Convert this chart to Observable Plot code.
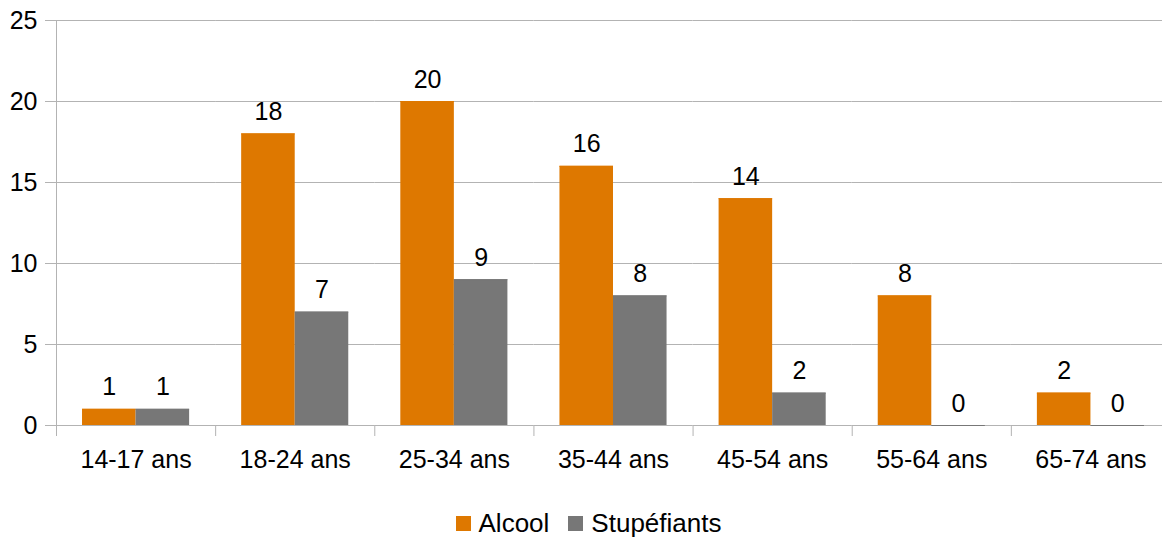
<!DOCTYPE html>
<html><head><meta charset="utf-8">
<script src="https://cdn.jsdelivr.net/npm/d3@7"></script>
<script src="https://cdn.jsdelivr.net/npm/@observablehq/plot@0.6"></script>
<style>
html,body{margin:0;padding:0;background:#fff;overflow:hidden;}
body{font-family:"Liberation Sans",Arial,sans-serif;}
#chart{width:1170px;height:490px;}
#legend{width:1177px;margin-top:18px;}
.lg-swatches{justify-content:center;font:26px "Liberation Sans",Arial,sans-serif !important;color:#000;min-height:28px !important;margin:0 !important;}
.lg-swatch{margin-right:19px !important;}
.lg-swatch:last-child{margin-right:0 !important;}
.lg-swatch > svg{margin-right:8px !important;}
</style></head><body>
<div id="chart"></div>
<div id="legend"></div>
<script>
const categories = ["14-17 ans","18-24 ans","25-34 ans","35-44 ans","45-54 ans","55-64 ans","65-74 ans"];
const series = ["Alcool","Stupéfiants"];
const alcool = [1,18,20,16,14,8,2];
const stupefiants = [1,7,9,8,2,0,0];
const yTicks = [0,5,10,15,20,25];
const colors = ["#de7800","#777777"];

const data = categories.flatMap((c,i)=>[
  {category:c, series:series[0], value:alcool[i]},
  {category:c, series:series[1], value:stupefiants[i]}
]);

const W=1170,H=490,mT=20,mB=65,mL=56,mR=0;
const innerH = H-mT-mB;
const grid = "#b3b3b3";
const font = "Liberation Sans, Arial, sans-serif";

const chart = Plot.plot({
  width:W,height:H,marginTop:mT,marginBottom:mB,marginLeft:mL,marginRight:mR,
  style:{fontFamily:font, fontSize:"25px", color:"#000", background:"#fff", overflow:"visible"},
  fx:{domain:categories, padding:0, round:false, label:null},
  x:{domain:series, paddingInner:0, paddingOuter:0.486, round:false, axis:null},
  y:{domain:[0,25], ticks:yTicks, label:null},
  color:{domain:series, range:colors},
  marks:[
    Plot.gridY(yTicks,{stroke:grid, strokeOpacity:1}),
    Plot.frame({anchor:"left", stroke:grid, strokeOpacity:1, insetTop:innerH, insetBottom:-10}),
    Plot.frame({anchor:"left", stroke:grid, strokeOpacity:1, insetBottom:-10, fx:()=>categories[0]}),
    Plot.axisY(yTicks,{tickSize:11, tickPadding:8, stroke:grid, fill:"#000", fontSize:25, label:null}),
    Plot.axisFx({anchor:"bottom", tickSize:0, tickPadding:25, fill:"#000", fontSize:25, label:null}),
    Plot.barY(data,{fx:"category", x:"series", y:"value", fill:"series"}),
    Plot.tickY(data,{fx:"category", x:"series", y:"value", stroke:"series"}),
    Plot.text(data,{fx:"category", x:"series", y:"value", text:"value", dy:-22, fill:"#000", fontSize:25})
  ]
});
document.getElementById("chart").append(chart);

const legend = Plot.legend({
  color:{domain:series, range:colors},
  legend:"swatches",
  swatchSize:15,
  className:"lg"
});
document.getElementById("legend").append(legend);
</script>
</body></html>
